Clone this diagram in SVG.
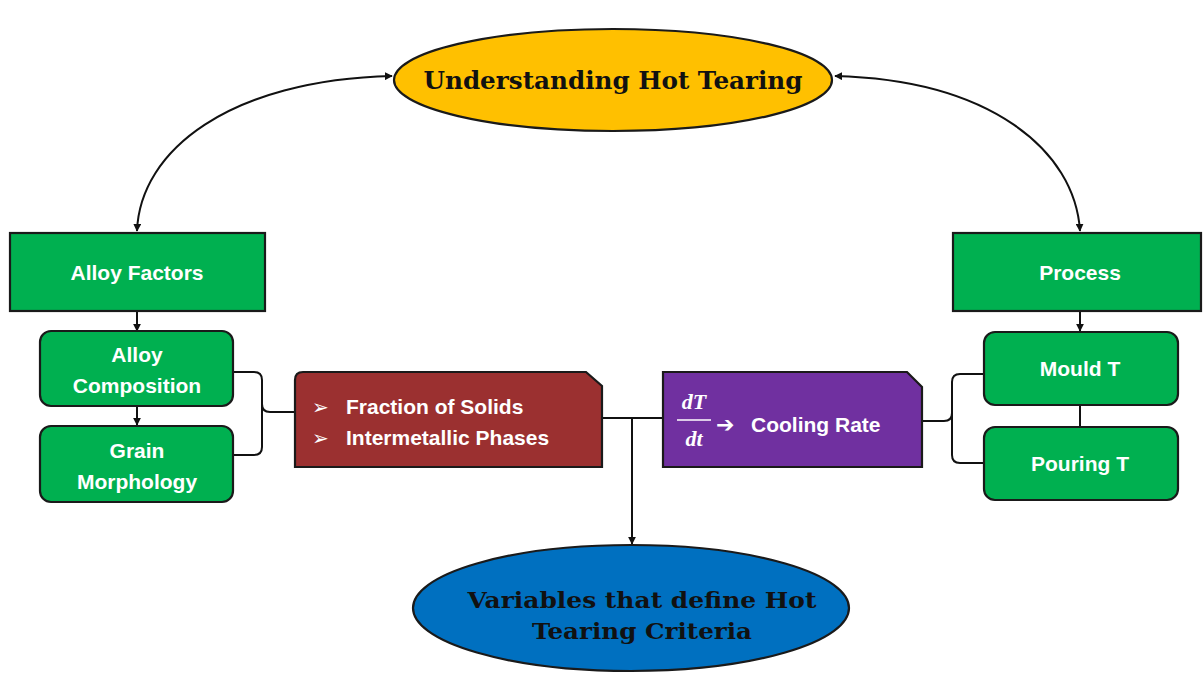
<svg xmlns="http://www.w3.org/2000/svg" width="1203" height="676" viewBox="0 0 1203 676">
  <defs>
    <marker id="arrow" viewBox="0 0 10 10" refX="9" refY="5" markerWidth="8" markerHeight="8" markerUnits="userSpaceOnUse" orient="auto-start-reverse">
      <path d="M0,0 L10,5 L0,10 z" fill="#111"/>
    </marker>
    <style>
      .edge { fill: none; stroke: #111; stroke-width: 2; }
      .box { stroke: #1a1a1a; stroke-width: 2.2; }
      .green { fill: #00b050; }
      .lbl { font-family: "Liberation Sans", Arial, sans-serif; font-weight: bold; font-size: 21px; fill: #fff; text-anchor: middle; }
      .left { text-anchor: start; }
      .title { font-family: "DejaVu Serif", "Liberation Serif", serif; font-weight: bold; fill: #111; text-anchor: middle; }
      .sym { font-family: "DejaVu Sans", sans-serif; fill: #fff; }
      .math { font-family: "Liberation Serif", "DejaVu Serif", serif; font-style: italic; font-weight: bold; font-size: 22px; fill: #fff; text-anchor: middle; }
    </style>
  </defs>

  <!-- connectors -->
  <g id="connectors">
    <path class="edge" d="M137,231 C140,150 230,80 392,76" marker-start="url(#arrow)" marker-end="url(#arrow)"/>
    <path class="edge" d="M835,76 C990,80 1075,150 1080,231" marker-start="url(#arrow)" marker-end="url(#arrow)"/>
    <path class="edge" d="M137,311 L137,331" marker-end="url(#arrow)"/>
    <path class="edge" d="M137,406 L137,425" marker-end="url(#arrow)"/>
    <path class="edge" d="M1080,311 L1080,331" marker-end="url(#arrow)"/>
    <path class="edge" d="M1080,405 L1080,427"/>
    <!-- left brace -->
    <path class="edge" d="M233,372 L254,372 Q262,372 262,380 L262,404 Q262,412 270,412 L296,412 M262,404 L262,447 Q262,455 254,455 L233,455"/>
    <!-- right brace -->
    <path class="edge" d="M984,374 L960,374 Q952,374 952,382 L952,413 Q952,421 944,421 L922,421 M952,413 L952,455 Q952,463 960,463 L984,463"/>
    <!-- red box to purple box, and down to criteria -->
    <path class="edge" d="M602,418 L663,418"/>
    <path class="edge" d="M632,418 L632,544" marker-end="url(#arrow)"/>
  </g>

  <g id="understanding">
    <ellipse cx="613" cy="80" rx="219" ry="51" fill="#ffc000" class="box"/>
    <text class="title" x="613" y="89" font-size="24" textLength="379" lengthAdjust="spacingAndGlyphs">Understanding Hot Tearing</text>
  </g>

  <g id="alloy-factors">
    <rect x="10" y="233" width="255" height="78" class="box green"/>
    <text class="lbl" x="137" y="280">Alloy Factors</text>
  </g>

  <g id="alloy-composition">
    <rect x="40" y="331" width="193" height="75" rx="11" class="box green"/>
    <text class="lbl" x="137" y="362">Alloy</text>
    <text class="lbl" x="137" y="393">Composition</text>
  </g>

  <g id="grain-morphology">
    <rect x="40" y="426" width="193" height="76" rx="11" class="box green"/>
    <text class="lbl" x="137" y="458">Grain</text>
    <text class="lbl" x="137" y="489">Morphology</text>
  </g>

  <g id="solids">
    <path d="M303,372 L586,372 L602,386 L602,467 L295,467 L295,380 Q295,372 303,372 z" fill="#9b3030" class="box"/>
    <text class="sym" x="312" y="414" font-size="20">➢</text>
    <text class="lbl left" x="346" y="414">Fraction of Solids</text>
    <text class="sym" x="312" y="445" font-size="20">➢</text>
    <text class="lbl left" x="346" y="445">Intermetallic Phases</text>
  </g>

  <g id="cooling-rate">
    <path d="M663,372 L907,372 L922,387 L922,467 L663,467 z" fill="#7030a0" class="box"/>
    <text class="math" x="694" y="409">dT</text>
    <line x1="677" y1="420" x2="711" y2="420" stroke="#fff" stroke-width="1.5"/>
    <text class="math" x="694" y="446">dt</text>
    <text class="sym" x="716" y="432" font-size="22" font-weight="bold">➔</text>
    <text class="lbl left" x="751" y="432">Cooling Rate</text>
  </g>

  <g id="process">
    <rect x="953" y="233" width="248" height="78" class="box green"/>
    <text class="lbl" x="1080" y="280">Process</text>
  </g>

  <g id="mould-t">
    <rect x="984" y="332" width="194" height="73" rx="11" class="box green"/>
    <text class="lbl" x="1080" y="376">Mould T</text>
  </g>

  <g id="pouring-t">
    <rect x="984" y="427" width="194" height="73" rx="11" class="box green"/>
    <text class="lbl" x="1080" y="471">Pouring T</text>
  </g>

  <g id="criteria">
    <ellipse cx="631" cy="608" rx="218" ry="63" fill="#0070c0" class="box"/>
    <text class="title" x="642" y="608" font-size="22" textLength="349" lengthAdjust="spacingAndGlyphs">Variables that define Hot</text>
    <text class="title" x="642" y="639" font-size="22" textLength="220" lengthAdjust="spacingAndGlyphs">Tearing Criteria</text>
  </g>
</svg>
